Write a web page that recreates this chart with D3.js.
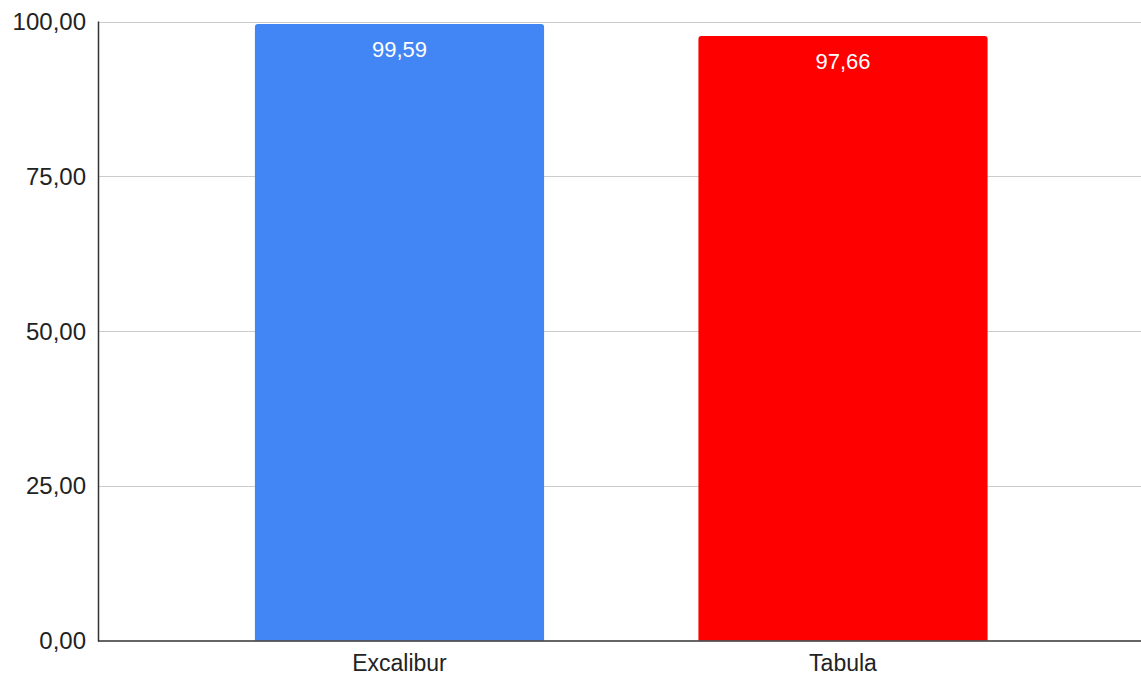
<!DOCTYPE html>
<html>
<head>
<meta charset="utf-8">
<script src="https://cdn.jsdelivr.net/npm/d3@7"></script>
<style>
  body { margin: 0; background: #fff; }
  text { font-family: "Liberation Sans", Arial, sans-serif; }
</style>
</head>
<body>
<div id="chart"></div>
<script>
// data
const categories = ["Excalibur", "Tabula"]
const values = [99.59, 97.66]
const barColors = ["#4285f4", "#ff0000"]
const yTicks = [0, 25, 50, 75, 100]

const width = 1141, height = 677
const plotLeft = 98, plotRight = 1141
const plotTop = 21.5, plotBottom = 640.5

const fmt = v => d3.format(".2f")(v).replace(".", ",")

const svg = d3.select("#chart")
  .append("svg")
    .attr("width", width)
    .attr("height", height)

// y scale
const y = d3.scaleLinear()
  .domain([0, 100])
  .range([plotBottom, plotTop])

// x scale - band centres sit at ~399 and ~843
const x = d3.scaleBand()
  .domain(categories)
  .range([177.75, 1064.75])
  .paddingInner(0.348)
  .paddingOuter(0.174)

// gridlines
svg.append("g")
  .selectAll("line")
  .data(yTicks.filter(t => t > 0))
  .join("line")
    .attr("x1", plotLeft)
    .attr("x2", plotRight)
    .attr("y1", d => Math.round(y(d)) + 0.5)
    .attr("y2", d => Math.round(y(d)) + 0.5)
    .attr("stroke", "#cccccc")
    .attr("stroke-width", 1)

// y tick labels
svg.append("g")
  .selectAll("text")
  .data(yTicks)
  .join("text")
    .attr("x", 86)
    .attr("y", d => y(d))
    .attr("dy", "0.36em")
    .attr("text-anchor", "end")
    .attr("font-size", 24)
    .attr("fill", "#222")
    .text(d => fmt(d))

// bars with rounded top corners
const r = 3
svg.append("g")
  .selectAll("path")
  .data(categories)
  .join("path")
    .attr("fill", (d, i) => barColors[i])
    .attr("d", (d, i) => {
      const x0 = x(d), x1 = x(d) + x.bandwidth()
      const yTop = y(values[i]), yBot = y(0)
      return `M${x0},${yBot}V${yTop + r}Q${x0},${yTop} ${x0 + r},${yTop}` +
        `H${x1 - r}Q${x1},${yTop} ${x1},${yTop + r}V${yBot}Z`
    })

// value labels inside bars
svg.append("g")
  .selectAll("text")
  .data(categories)
  .join("text")
    .attr("x", d => x(d) + x.bandwidth() / 2)
    .attr("y", (d, i) => y(values[i]) + 33)
    .attr("text-anchor", "middle")
    .attr("font-size", 22)
    .attr("fill", "#ffffff")
    .text((d, i) => fmt(values[i]))

// axes lines
svg.append("line")
  .attr("x1", plotLeft + 0.5).attr("x2", plotLeft + 0.5)
  .attr("y1", plotTop).attr("y2", plotBottom + 1)
  .attr("stroke", "#333").attr("stroke-width", 1.5)

svg.append("line")
  .attr("x1", plotLeft).attr("x2", plotRight)
  .attr("y1", plotBottom + 0.5).attr("y2", plotBottom + 0.5)
  .attr("stroke", "#333").attr("stroke-width", 1.5)

// category labels
svg.append("g")
  .selectAll("text")
  .data(categories)
  .join("text")
    .attr("x", d => x(d) + x.bandwidth() / 2)
    .attr("y", 671)
    .attr("text-anchor", "middle")
    .attr("font-size", 23)
    .attr("fill", "#222")
    .text(d => d)
</script>
</body>
</html>
